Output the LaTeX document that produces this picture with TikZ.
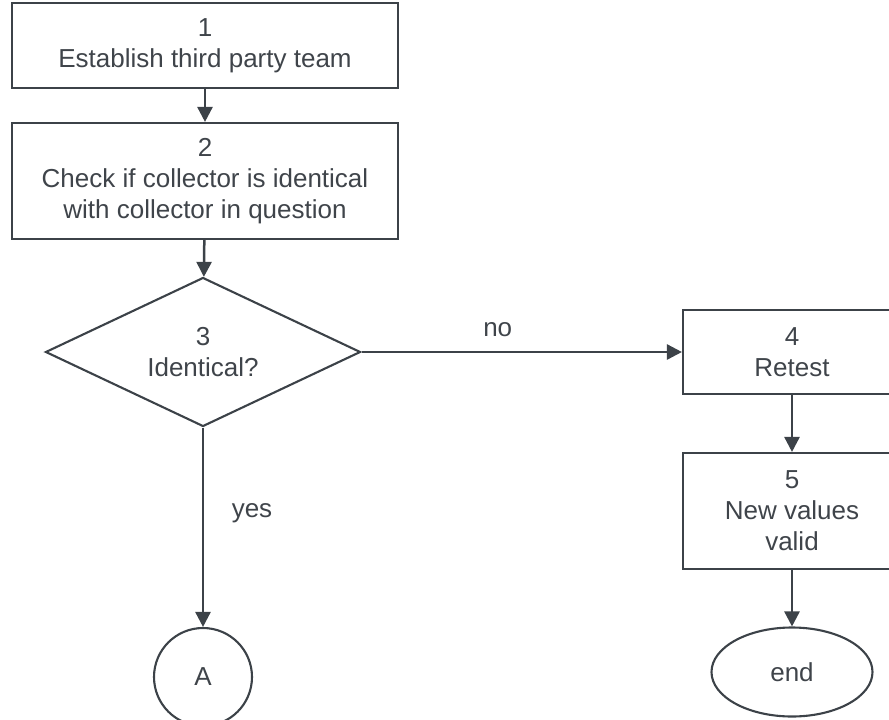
\documentclass[tikz,border=0pt]{standalone}
\usepackage{fontspec}
\setmainfont{Liberation Sans}
\usetikzlibrary{shapes.geometric,arrows.meta}
\definecolor{ink}{HTML}{3C4248}
\definecolor{textink}{HTML}{3F444A}
\begin{document}
\begin{tikzpicture}[x=1pt,y=-1pt,
  every node/.style={text=textink, font=\fontsize{26}{31}\selectfont},
  stepbox/.style={draw=ink, line width=2.1pt, rectangle, align=center, inner sep=0pt},
  decision/.style={draw=ink, line width=2.1pt, diamond, align=center, inner sep=0pt, aspect=2.1},
  conn/.style={draw=ink, line width=2.5pt, -{Triangle[length=15pt,width=15pt]}},
  lbl/.style={inner sep=0pt}]
\useasboundingbox (0,0) rectangle (889,720);
\node[stepbox, minimum width=386pt, minimum height=85pt] (b1) at (205,45.5) {1\\Establish third party team};
\node[stepbox, minimum width=386pt, minimum height=116pt] (b2) at (205,181) {2\\Check if collector is identical\\with collector in question};
\node[decision, minimum width=315pt, minimum height=149pt] (d3) at (203,352) {3\\Identical?};
\node[stepbox, minimum width=218pt, minimum height=84pt] (b4) at (792,352) {4\\Retest};
\node[stepbox, minimum width=218pt, minimum height=116pt] (b5) at (792,511) {5\\New values\\valid};
\node[draw=ink, line width=2.1pt, circle, minimum size=98pt, inner sep=0pt] (a) at (203,677) {A};
\node[draw=ink, line width=2.1pt, ellipse, minimum width=161pt, minimum height=89pt, inner sep=0pt] (e) at (792,672) {end};
\draw[conn] (b1) -- (b2);
\draw[conn] (b2) -- (d3);
\draw[conn] (d3.east) -- node[lbl, pos=0.425, yshift=22pt] {no} (b4.west);
\draw[conn] (d3.south) -- node[lbl, pos=0.43, xshift=49pt] {yes} (a.north);
\draw[conn] (b4) -- (b5);
\draw[conn] (b5) -- (e);
\end{tikzpicture}
\end{document}
